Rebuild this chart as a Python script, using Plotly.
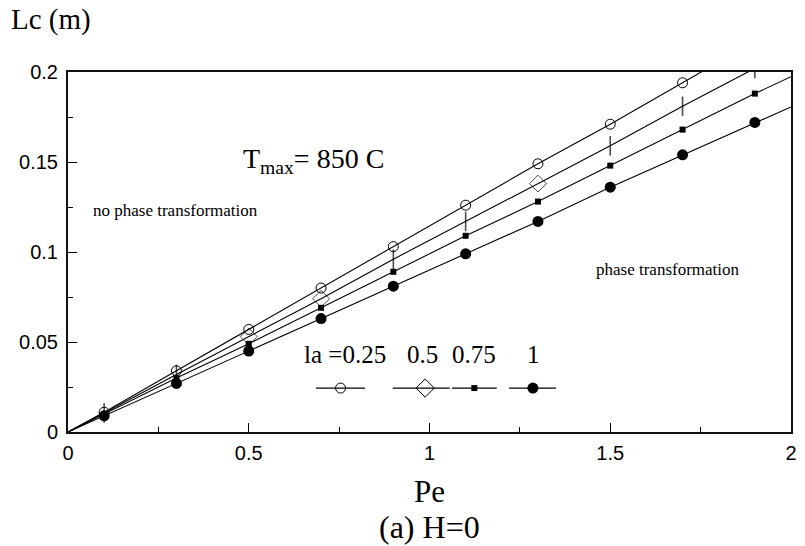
import plotly.graph_objects as go

# ---- data ----
pe = [0.1, 0.3, 0.5, 0.7, 0.9, 1.1, 1.3, 1.5, 1.7, 1.9]
lc_025 = [0.011, 0.034, 0.057, 0.080, 0.103, 0.126, 0.149, 0.171, 0.194, 0.217]
lc_050 = [0.0105, 0.032, 0.053, 0.074, 0.096, 0.117, 0.138, 0.159, 0.181, 0.202]
lc_075 = [0.010, 0.030, 0.049, 0.069, 0.089, 0.109, 0.128, 0.148, 0.168, 0.188]
lc_100 = [0.009, 0.027, 0.045, 0.063, 0.081, 0.099, 0.117, 0.136, 0.154, 0.172]
# line ends (origin and right edge of the chart)
pe_start, pe_end = 0.0, 2.0
lc_end = {"0.25": 0.2286, "0.5": 0.2116, "0.75": 0.1974, "1": 0.1806}
lambda_labels = ["0.25", "0.5", "0.75", "1"]
x_ticks = [0, 0.5, 1, 1.5, 2]
y_ticks = [0, 0.05, 0.1, 0.15, 0.2]

SERIF = "Liberation Serif"
SANS = "Liberation Sans"

fig = go.Figure()

bar, dia = "line-ns-open", "diamond-open"
s2_sym = [bar, bar, dia, dia, bar, bar, dia, bar, bar, bar]
series = [
    ("0.25", lc_025, dict(symbol="circle-open", size=10, color="black", line=dict(width=1, color="black"))),
    ("0.5", lc_050, dict(symbol=s2_sym, size=[14 if s == bar else 13 for s in s2_sym], color="black",
                         line=dict(width=[1.6 if s == bar else 1 for s in s2_sym], color="black"))),
    ("0.75", lc_075, dict(symbol="square", size=6, color="black")),
    ("1", lc_100, dict(symbol="circle", size=11, color="black")),
]

for name, vals, mk in series:
    fig.add_trace(go.Scatter(
        x=[pe_start] + pe + [pe_end], y=[0.0] + vals + [lc_end[name]],
        mode="lines", line=dict(color="black", width=1.1), showlegend=False, hoverinfo="skip"))
    fig.add_trace(go.Scatter(
        x=pe, y=vals, mode="markers", marker=mk, showlegend=False, cliponaxis=True))

# legend samples (drawn on an overlay axis spanning the plot area)
leg_x = [(0.343, 0.377, 0.411), (0.449, 0.494, 0.528), (0.531, 0.562, 0.593), (0.610, 0.643, 0.675)]
leg_y = 0.122
leg_markers = [
    dict(symbol="circle-open", size=10, color="black", line=dict(width=1, color="black")),
    dict(symbol="diamond-open", size=14, color="black", line=dict(width=1, color="black")),
    dict(symbol="square", size=6, color="black"),
    dict(symbol="circle", size=11, color="black"),
]
for (a, m, b), mk in zip(leg_x, leg_markers):
    fig.add_trace(go.Scatter(x=[a, b], y=[leg_y, leg_y], xaxis="x2", yaxis="y2", mode="lines",
                             line=dict(color="black", width=1.1), showlegend=False, hoverinfo="skip"))
    fig.add_trace(go.Scatter(x=[m], y=[leg_y], xaxis="x2", yaxis="y2", mode="markers",
                             marker=mk, showlegend=False, hoverinfo="skip"))

leg_ty = 0.043
ann = [
    dict(x=0.68, y=0.1511, xref="x", yref="y", text="T<sub>max</sub>= 850 C", size=28),
    dict(x=0.296, y=0.1233, xref="x", yref="y", text="no phase transformation", size=17),
    dict(x=1.66, y=0.0905, xref="x", yref="y", text="phase transformation", size=17),
    dict(x=0.765, y=leg_ty, xref="x", yref="y", text="la =" + lambda_labels[0], size=25),
    dict(x=0.98, y=leg_ty, xref="x", yref="y", text=lambda_labels[1], size=25),
    dict(x=1.122, y=leg_ty, xref="x", yref="y", text=lambda_labels[2], size=25),
    dict(x=1.287, y=leg_ty, xref="x", yref="y", text=lambda_labels[3], size=25),
    dict(x=-0.082, y=1.145, xref="paper", yref="paper", xanchor="left", text="Lc (m)", size=29),
    dict(x=0.5, y=-0.164, xref="paper", yref="paper", text="Pe", size=31),
    dict(x=0.5, y=-0.264, xref="paper", yref="paper", text="(a) H=0", size=32),
]
annotations = []
for a in ann:
    size = a.pop("size")
    a.update(showarrow=False, yanchor="middle", font=dict(family=SERIF, size=size, color="black"))
    a.setdefault("xanchor", "center")
    annotations.append(a)
fig.update_layout(annotations=annotations)

axis_common = dict(showgrid=False, zeroline=False, showline=True, linecolor="#111", linewidth=2,
                   mirror=True, ticks="inside", tickcolor="black", tickwidth=1, ticklen=9,
                   tickfont=dict(family=SANS, size=20, color="black"),
                   minor=dict(ticks="inside", ticklen=5, tickwidth=1, tickcolor="black"))

fig.update_layout(
    width=805, height=546, margin=dict(l=68, r=8, t=72, b=114),
    paper_bgcolor="white", plot_bgcolor="white",
    xaxis=dict(range=[0, 2], tickvals=x_ticks, ticktext=[f"{v:g}" for v in x_ticks],
               minor_dtick=0.25, ticklabelstandoff=2, **axis_common),
    yaxis=dict(range=[0, 0.2], tickvals=y_ticks, ticktext=[f"{v:g}" for v in y_ticks],
               minor_dtick=0.025, ticklabelstandoff=4, **axis_common),
    xaxis2=dict(range=[0, 1], overlaying="x", visible=False),
    yaxis2=dict(range=[0, 1], overlaying="y", visible=False),
)

fig.write_html("out.html")
